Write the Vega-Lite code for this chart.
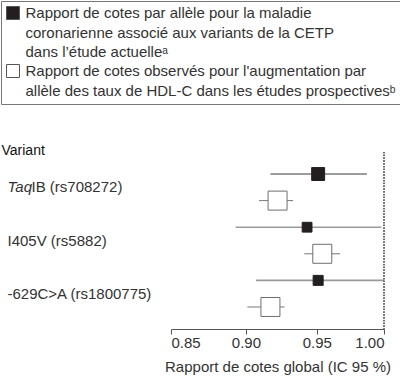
{
  "$schema": "https://vega.github.io/schema/vega-lite/v6.json",
  "width": 213,
  "height": 177,
  "autosize": {"type": "none"},
  "padding": {"left": 171, "top": 152, "right": 16, "bottom": 48},
  "config": {
    "view": {"stroke": null},
    "font": "Liberation Sans",
    "style": {"guide-label": {"lineHeight": 19.7}}
  },
  "data": {
    "values": [
      {"variant": "TaqIB (rs708272)", "serie": "actuelle", "or": 0.951, "lo": 0.917, "hi": 0.987, "poids": 42},
      {"variant": "TaqIB (rs708272)", "serie": "prospectives", "or": 0.922, "lo": 0.909, "hi": 0.933, "poids": 90},
      {"variant": "I405V (rs5882)", "serie": "actuelle", "or": 0.943, "lo": 0.893, "hi": 0.998, "poids": 24},
      {"variant": "I405V (rs5882)", "serie": "prospectives", "or": 0.954, "lo": 0.941, "hi": 0.967, "poids": 90},
      {"variant": "-629C>A (rs1800775)", "serie": "actuelle", "or": 0.951, "lo": 0.907, "hi": 1.0, "poids": 25},
      {"variant": "-629C>A (rs1800775)", "serie": "prospectives", "or": 0.917, "lo": 0.901, "hi": 0.927, "poids": 90}
    ]
  },
  "resolve": {"axis": {"y": "independent"}},
  "layer": [
    {
      "mark": {"type": "rule"},
      "encoding": {
        "x": {
          "field": "lo", "type": "quantitative",
          "scale": {"type": "log", "domain": [0.85, 1.0], "nice": false, "zero": false},
          "axis": {
            "values": [0.85, 0.9, 0.95, 1.0], "format": ".2f", "grid": false,
            "domainColor": "#555", "tickColor": "#555", "tickSize": 5,
            "labelFontSize": 15, "labelColor": "#333", "labelPadding": 1,
            "title": "Rapport de cotes global (IC 95 %)",
            "titleFontSize": 15, "titleFontWeight": "normal", "titleColor": "#333", "titlePadding": 9
          }
        },
        "x2": {"field": "hi"},
        "y": {
          "field": "variant", "type": "nominal", "sort": null,
          "scale": {"type": "band", "paddingInner": 0, "paddingOuter": 0.164},
          "axis": {
            "orient": "left", "domain": false, "ticks": false, "tickSize": 0, "grid": false,
            "bandPosition": 0.25,
            "labelAlign": "left", "labelBaseline": "middle", "labelPadding": 164,
            "labelFontSize": 15, "labelColor": "#333", "labelLimit": 0,
            "labelExpr": "datum.value == 'TaqIB (rs708272)' ? 'Taq' : datum.label",
            "labelFontStyle": {"condition": {"test": "datum.value == 'TaqIB (rs708272)'", "value": "italic"}, "value": "normal"},
            "title": "Variant", "titleAngle": 0, "titleAlign": "left", "titleBaseline": "alphabetic",
            "titleX": -170, "titleY": 2, "titleFontSize": 14, "titleFontWeight": "normal", "titleColor": "#111"
          }
        },
        "yOffset": {"field": "serie", "type": "nominal", "scale": {"domain": ["actuelle", "prospectives"], "paddingInner": 0, "paddingOuter": 0}},
        "stroke": {
          "condition": [
            {"test": "datum.serie == 'prospectives'", "value": "#777"},
            {"test": "datum.variant == 'TaqIB (rs708272)'", "value": "#3a3a3a"}
          ],
          "value": "#9a9a9a"
        },
        "strokeWidth": {"condition": {"test": "datum.serie == 'actuelle' && datum.variant != 'TaqIB (rs708272)'", "value": 1.6}, "value": 1}
      }
    },
    {
      "mark": {"type": "square", "opacity": 1, "strokeWidth": 1},
      "encoding": {
        "x": {"field": "or", "type": "quantitative"},
        "y": {
          "field": "variant", "type": "nominal", "sort": null,
          "axis": {
            "orient": "left", "domain": false, "ticks": false, "tickSize": 0, "grid": false,
            "bandPosition": 0.25,
            "labelAlign": "left", "labelBaseline": "middle", "labelPadding": 140,
            "labelFontSize": 15, "labelColor": "#333", "labelLimit": 0,
            "labelExpr": "datum.value == 'TaqIB (rs708272)' ? 'IB (rs708272)' : ''",
            "title": null
          }
        },
        "yOffset": {"field": "serie", "type": "nominal"},
        "fill": {
          "field": "serie", "type": "nominal",
          "scale": {"domain": ["actuelle", "prospectives"], "range": ["#231f20", "#ffffff"]},
          "legend": {
            "orient": "none", "legendX": -170, "legendY": -151, "title": null,
            "padding": 4.5, "strokeColor": "#777", "fillColor": "#ffffff",
            "symbolType": "square", "symbolSize": 169, "symbolStrokeColor": "#555", "symbolStrokeWidth": 1,
            "labelFontSize": 15, "labelColor": "#333", "labelLimit": 0, "labelOffset": 5,
            "labelBaseline": "middle", "rowPadding": 2,
            "labelExpr": "datum.value == 'actuelle' ? ['Rapport de cotes par allèle pour la maladie', 'coronarienne associé aux variants de la CETP', 'dans l’étude actuelleᵃ'] : ['Rapport de cotes observés pour l\\'augmentation par', 'allèle des taux de HDL-C dans les études prospectivesᵇ']"
          }
        },
        "stroke": {"condition": {"test": "datum.serie == 'actuelle'", "value": "#231f20"}, "value": "#6e6e6e"},
        "size": {"field": "poids", "type": "quantitative", "scale": {"type": "linear", "domain": [0, 100], "range": [0, 400], "zero": true}, "legend": null}
      }
    },
    {
      "mark": {"type": "rule", "strokeDash": [1.2, 1.6], "color": "#666", "strokeWidth": 1},
      "encoding": {"x": {"datum": 1.0, "type": "quantitative"}}
    }
  ]
}
